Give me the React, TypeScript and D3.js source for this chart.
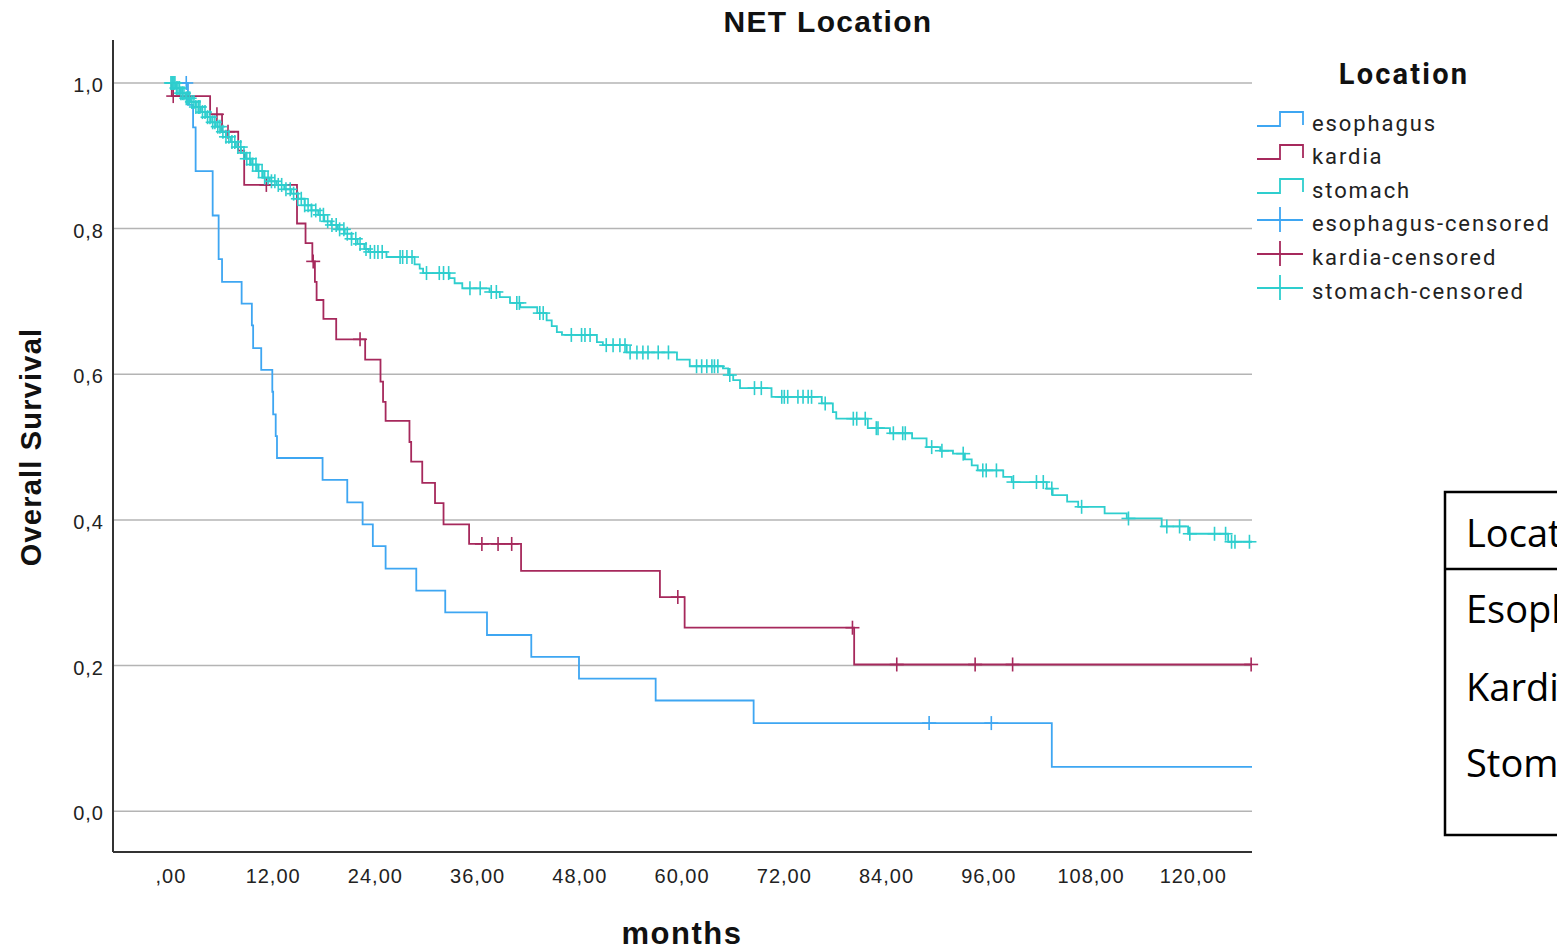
import React from "react";
import * as d3 from "d3";

// ---- data (months, survival) ----
const esophagusSteps: [number, number][] = [
  [0, 1], [2.0, 0.970], [2.6, 0.939], [2.9, 0.879], [4.9, 0.818], [5.6, 0.758], [6.0, 0.727],
  [8.3, 0.697], [9.5, 0.667], [9.65, 0.636], [10.6, 0.606], [11.9, 0.576], [12.0, 0.545],
  [12.3, 0.515], [12.45, 0.485], [17.8, 0.455], [20.7, 0.424], [22.5, 0.394], [23.7, 0.364],
  [25.2, 0.333], [28.8, 0.303], [32.2, 0.273], [37.1, 0.242], [42.3, 0.212], [47.9, 0.182],
  [56.9, 0.152], [68.4, 0.121], [103.4, 0.061],
];
const esophagusCensored = [1.8, 89.0, 96.3];

const kardiaSteps: [number, number][] = [
  [0, 1], [0.1, 0.982], [4.6, 0.957], [6.0, 0.933], [7.9, 0.907], [8.6, 0.860], [14.8, 0.807],
  [15.8, 0.780], [16.6, 0.755], [16.9, 0.727], [17.1, 0.702], [17.9, 0.676], [19.4, 0.648],
  [22.8, 0.620], [24.6, 0.590], [24.9, 0.562], [25.2, 0.536], [28.0, 0.507], [28.2, 0.480],
  [29.5, 0.451], [31.0, 0.423], [32.0, 0.394], [35.0, 0.367], [41.1, 0.330], [57.4, 0.294],
  [60.3, 0.252], [80.2, 0.2015],
];
const kardiaCensored = [0.27, 5.4, 6.7, 11.2, 16.7, 22.2, 36.5, 38.4, 40.0, 59.5, 80.0, 85.2, 94.4, 98.8, 126.8];

const stomachSteps: [number, number][] = [
  [0, 1], [0.59, 0.993], [1.17, 0.986], [1.76, 0.979], [2.35, 0.974], [2.93, 0.967], [3.52, 0.960],
  [4.11, 0.953], [4.69, 0.946], [5.28, 0.940], [5.87, 0.933], [6.46, 0.926], [7.04, 0.919],
  [7.63, 0.912], [8.22, 0.904], [8.80, 0.896], [9.39, 0.888], [10.1, 0.879], [10.8, 0.870],
  [11.6, 0.865], [12.4, 0.860], [13.3, 0.854], [14.1, 0.848], [14.9, 0.841], [15.7, 0.832],
  [16.5, 0.825], [17.3, 0.819], [18.0, 0.810], [18.8, 0.805], [19.6, 0.799], [20.4, 0.793],
  [21.2, 0.786], [21.9, 0.779], [22.7, 0.772], [23.2, 0.768], [25.3, 0.761], [28.6, 0.751],
  [29.2, 0.745], [29.6, 0.739], [32.7, 0.732], [33.3, 0.725], [34.2, 0.718], [37.4, 0.713],
  [38.6, 0.706], [39.8, 0.698], [41.0, 0.692], [43.0, 0.684], [44.1, 0.674], [44.7, 0.666],
  [45.3, 0.658], [45.9, 0.654], [50.0, 0.644], [50.7, 0.640], [53.5, 0.630], [59.4, 0.620],
  [60.9, 0.611], [64.8, 0.608], [65.4, 0.599], [66.0, 0.592], [66.8, 0.581], [70.5, 0.569],
  [76.4, 0.560], [77.7, 0.548], [78.1, 0.539], [81.8, 0.526], [84.4, 0.519], [87.0, 0.512],
  [88.7, 0.500], [90.3, 0.495], [91.8, 0.491], [93.2, 0.483], [94.0, 0.475], [94.7, 0.468],
  [97.7, 0.459], [98.7, 0.452], [102.8, 0.443], [103.5, 0.434], [105.2, 0.425], [106.5, 0.418],
  [109.6, 0.409], [112.2, 0.402], [116.3, 0.391], [119.4, 0.381], [124.1, 0.370],
];
const stomachCensored = [
  0, 0.12, 0.23, 0.35, 0.47, 0.65, 0.82, 1.0, 1.17, 1.35, 1.53, 1.8, 2.0, 2.2, 2.46, 2.7, 2.93, 3.2,
  3.4, 3.7, 4.0, 4.3, 4.58, 4.9, 5.16, 5.5, 5.75, 6.1, 6.46, 6.8, 7.16, 7.5, 7.86, 8.2, 8.57, 8.9,
  9.27, 9.6, 9.98, 10.3, 10.7, 11.0, 11.4, 11.8, 12.2, 12.6, 13.0, 13.5, 14.0, 14.4, 14.9, 15.3,
  15.7, 16.1, 16.5, 17.0, 17.5, 17.9, 18.4, 18.9, 19.4, 19.8, 20.3, 20.7, 21.2, 21.7, 22.2, 22.9,
  23.4, 23.9, 24.3, 24.8, 26.9, 27.2, 27.7, 28.3, 30.0, 31.5, 32.0, 32.6, 35.1, 36.3, 37.6, 38.2,
  40.6, 40.9, 43.3, 43.7, 47.0, 48.2, 48.6, 49.2, 51.1, 51.9, 52.7, 53.3, 53.9, 54.7, 55.4, 56.0,
  57.2, 58.4, 61.7, 62.3, 62.9, 63.5, 63.8, 64.2, 65.6, 68.5, 69.3, 71.7, 72.0, 72.4, 73.6, 74.2,
  74.8, 75.2, 76.8, 80.1, 80.5, 81.5, 82.8, 83.0, 84.8, 85.9, 86.2, 89.3, 90.5, 93.0, 95.3, 95.7,
  96.9, 98.9, 101.6, 102.4, 103.4, 106.9, 112.4, 116.9, 118.4, 119.6, 122.5, 123.8, 124.5, 124.9,
  126.6,
];
const followUpEnd = 126.9;

const seriesNames = ["esophagus", "kardia", "stomach"];
const xTicks = [0, 12, 24, 36, 48, 60, 72, 84, 96, 108, 120];
const yTicks = [0, 0.2, 0.4, 0.6, 0.8, 1.0];
const tableRows = ["Location", "Esophagus", "Kardia", "Stomach"];

const colors = ["#3ea6f2", "#a6295c", "#2ecece"];

const W = 1557;
const H = 950;

const x = d3.scaleLinear().domain([-6.8, 126.9]).range([113, 1252]);
const y = d3.scaleLinear().domain([-0.056, 1.059]).range([852, 40]);

function survAt(steps: [number, number][], t: number) {
  let s = steps[0][1];
  for (const [tt, ss] of steps) {
    if (tt <= t) s = ss;
    else break;
  }
  return s;
}

const stepLine = d3
  .line<[number, number]>()
  .x((d) => x(d[0]))
  .y((d) => y(d[1]))
  .curve(d3.curveStepAfter);

const fmtX = (v: number) => (v === 0 ? ",00" : `${v},00`);
const fmtY = (v: number) => v.toFixed(1).replace(".", ",");

export default function App() {
  const series = [
    { steps: esophagusSteps, cens: esophagusCensored },
    { steps: kardiaSteps, cens: kardiaCensored },
    { steps: stomachSteps, cens: stomachCensored },
  ];
  const font = "'Liberation Sans', Arial, sans-serif";
  const legendFont = "Roboto, 'Liberation Sans', sans-serif";
  const legendRowY = [123, 156, 190, 223, 257, 291];
  return (
    <svg
      width={W}
      height={H}
      style={{ position: "absolute", left: 0, top: 0, background: "#fff" }}
    >
      <rect x={0} y={0} width={W} height={H} fill="#fff" />
      {/* gridlines */}
      {yTicks.map((v) => (
        <line key={v} x1={113} x2={1252} y1={y(v)} y2={y(v)} stroke="#b4b4b4" strokeWidth={1.5} />
      ))}
      {/* axes */}
      <line x1={113} x2={113} y1={40} y2={852} stroke="#333" strokeWidth={2} />
      <line x1={113} x2={1252} y1={852} y2={852} stroke="#333" strokeWidth={2} />
      {yTicks.map((v) => (
        <text key={v} x={104} y={y(v) + 9} textAnchor="end" fontFamily={font} fontSize={20} letterSpacing={1} fill="#222">
          {fmtY(v)}
        </text>
      ))}
      {xTicks.map((v) => (
        <text key={v} x={x(v)} y={883} textAnchor="middle" fontFamily={font} fontSize={20} letterSpacing={1} fill="#222">
          {fmtX(v)}
        </text>
      ))}
      {/* curves */}
      {series.map((s, i) => {
        const last = s.steps[s.steps.length - 1];
        const pts: [number, number][] = [...s.steps, [followUpEnd, last[1]]];
        return (
          <g key={i}>
            <path d={stepLine(pts) || ""} fill="none" stroke={colors[i]} strokeWidth={1.8} />
            {s.cens.map((t, j) => {
              const cx = x(t);
              const cy = y(survAt(s.steps, t));
              return (
                <g key={j} stroke={colors[i]} strokeWidth={1.6}>
                  <line x1={cx - 7} x2={cx + 7} y1={cy} y2={cy} />
                  <line x1={cx} x2={cx} y1={cy - 7} y2={cy + 7} />
                </g>
              );
            })}
          </g>
        );
      })}
      {/* titles */}
      <text x={828} y={32} textAnchor="middle" fontFamily={font} fontWeight="bold" fontSize={30} letterSpacing={1.3} fill="#111">
        NET Location
      </text>
      <text x={682} y={944} textAnchor="middle" fontFamily={font} fontWeight="bold" fontSize={31} letterSpacing={1.5} fill="#111">
        months
      </text>
      <text
        transform={`translate(41,447) rotate(-90)`}
        textAnchor="middle"
        fontFamily={font}
        fontWeight="bold"
        fontSize={29}
        letterSpacing={1.2}
        fill="#111"
      >
        Overall Survival
      </text>
      {/* legend */}
      <text x={1404} y={84} textAnchor="middle" fontFamily={legendFont} fontWeight="bold" fontSize={29} letterSpacing={2.2} fill="#111">
        Location
      </text>
      {seriesNames.map((n, i) => {
        const cy = legendRowY[i];
        return (
          <g key={n}>
            <path
              d={`M1257,${cy + 3}H1280V${cy - 11}H1303V${cy + 2}`}
              fill="none"
              stroke={colors[i]}
              strokeWidth={1.8}
            />
            <text x={1312} y={cy + 8} fontFamily={legendFont} fontSize={22} fill="#222" letterSpacing={1.9}>
              {n}
            </text>
          </g>
        );
      })}
      {seriesNames.map((n, i) => {
        const cy = legendRowY[i + 3];
        return (
          <g key={n + "c"}>
            <g stroke={colors[i]} strokeWidth={1.8}>
              <line x1={1257} x2={1303} y1={cy - 3} y2={cy - 3} />
              <line x1={1280} x2={1280} y1={cy - 16} y2={cy + 9} />
            </g>
            <text x={1312} y={cy + 8} fontFamily={legendFont} fontSize={22} fill="#222" letterSpacing={1.9}>
              {n}-censored
            </text>
          </g>
        );
      })}
      {/* side table */}
      <g>
        <rect x={1445} y={492} width={200} height={343} fill="none" stroke="#000" strokeWidth={2.5} />
        <line x1={1445} x2={1600} y1={569} y2={569} stroke="#000" strokeWidth={2.5} />
        {tableRows.map((r, i) => (
          <text
            key={r}
            x={1466}
            y={[547, 623, 701, 777][i]}
            fontFamily="'Open Sans', 'Noto Sans', sans-serif"
            fontSize={38}
            fill="#000"
          >
            {r}
          </text>
        ))}
      </g>
    </svg>
  );
}
